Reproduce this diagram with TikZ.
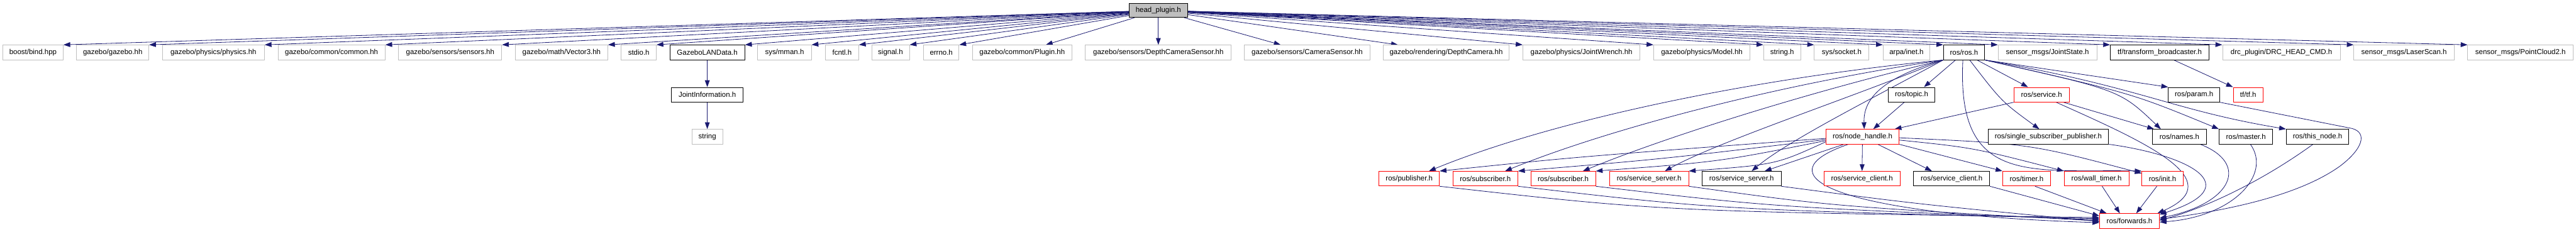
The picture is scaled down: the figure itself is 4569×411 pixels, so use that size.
\documentclass[tikz,border=0pt]{standalone}
\usepackage{fontspec}
\setmainfont{Liberation Sans}
\usetikzlibrary{arrows.meta}
\pgfdeclarelayer{bg}
\pgfsetlayers{bg,main}
\definecolor{edgec}{HTML}{191970}
\definecolor{grayb}{HTML}{BFBFBF}
\definecolor{redb}{HTML}{FF0000}
\definecolor{headfill}{HTML}{BFBFBF}
\begin{document}
\begin{tikzpicture}[x=1pt,y=-1pt,
  box/.style={draw, line width=1pt, fill=white, minimum height=26pt, inner sep=0pt, anchor=center, font=\fontsize{12.8}{15}\selectfont},
  gbox/.style={box, draw=grayb},
  kbox/.style={box, draw=black},
  rbox/.style={box, draw=redb},
  edge/.style={draw=edgec, line width=0.9pt, -{Triangle[length=12pt,width=8.5pt]}},
]
\useasboundingbox (0,0) rectangle (4569,411);

% row 1
\node[kbox, fill=headfill, minimum width=103pt, minimum height=25pt] (head) at (2054.5,18.5) {head\_plugin.h};

% row 2
\node[gbox, minimum width=107pt] (bind) at (58.5,93) {boost/bind.hpp};
\node[gbox, minimum width=128pt] (gazebo) at (200,93) {gazebo/gazebo.hh};
\node[gbox, minimum width=181pt] (physics) at (378.5,93) {gazebo/physics/physics.hh};
\node[gbox, minimum width=190pt] (common) at (588,93) {gazebo/common/common.hh};
\node[gbox, minimum width=183pt] (sensors) at (798.5,93) {gazebo/sensors/sensors.hh};
\node[gbox, minimum width=164pt] (vector3) at (996,93) {gazebo/math/Vector3.hh};
\node[gbox, minimum width=62pt] (stdio) at (1133,93) {stdio.h};
\node[kbox, minimum width=133pt] (lan) at (1254.5,93) {GazeboLANData.h};
\node[gbox, minimum width=95pt] (mman) at (1391.5,93) {sys/mman.h};
\node[gbox, minimum width=59pt] (fcntl) at (1493.5,93) {fcntl.h};
\node[gbox, minimum width=67pt] (signal) at (1579.5,93) {signal.h};
\node[gbox, minimum width=63pt] (errno) at (1669.5,93) {errno.h};
\node[gbox, minimum width=176pt] (plugin) at (1813,93) {gazebo/common/Plugin.hh};
\node[gbox, minimum width=259pt] (dcs) at (2054.5,93) {gazebo/sensors/DepthCameraSensor.hh};
\node[gbox, minimum width=223pt] (cam) at (2318.5,93) {gazebo/sensors/CameraSensor.hh};
\node[gbox, minimum width=224pt] (dcam) at (2565,93) {gazebo/rendering/DepthCamera.hh};
\node[gbox, minimum width=208pt] (wrench) at (2805,93) {gazebo/physics/JointWrench.hh};
\node[gbox, minimum width=171pt] (model) at (3018.5,93) {gazebo/physics/Model.hh};
\node[gbox, minimum width=66pt] (stringh) at (3161,93) {string.h};
\node[gbox, minimum width=97pt] (socket) at (3266.5,93) {sys/socket.h};
\node[gbox, minimum width=83pt] (inet) at (3381.5,93) {arpa/inet.h};
\node[kbox, minimum width=73pt] (ros) at (3483.5,93) {ros/ros.h};
\node[gbox, minimum width=175pt] (jointstate) at (3631.5,93) {sensor\_msgs/JointState.h};
\node[kbox, minimum width=175pt] (tfb) at (3830.5,93) {tf/transform\_broadcaster.h};
\node[gbox, minimum width=209pt] (drc) at (4046.5,93) {drc\_plugin/DRC\_HEAD\_CMD.h};
\node[gbox, minimum width=178pt] (laser) at (4264,93) {sensor\_msgs/LaserScan.h};
\node[gbox, minimum width=187pt] (cloud) at (4470.5,93) {sensor\_msgs/PointCloud2.h};

% row 3
\node[kbox, minimum width=127pt] (jinfo) at (1254.5,168) {JointInformation.h};
\node[kbox, minimum width=83pt] (topic) at (3390.5,168) {ros/topic.h};
\node[rbox, minimum width=98pt] (service) at (3621,168) {ros/service.h};
\node[kbox, minimum width=91pt] (param) at (3891.5,168) {ros/param.h};
\node[rbox, minimum width=53pt] (tftf) at (3987.5,168) {tf/tf.h};

% row 3.5
\node[gbox, minimum width=55pt] (stringn) at (1254.5,242.5) {string};
\node[rbox, minimum width=129pt] (nh) at (3303.5,242.5) {ros/node\_handle.h};
\node[kbox, minimum width=214pt] (ssp) at (3633,242.5) {ros/single\_subscriber\_publisher.h};
\node[kbox, minimum width=95pt] (names) at (3865.5,242.5) {ros/names.h};
\node[kbox, minimum width=95pt] (master) at (3983.5,242.5) {ros/master.h};
\node[kbox, minimum width=111pt] (thisnode) at (4110.5,242.5) {ros/this\_node.h};

% row 4
\node[rbox, minimum width=107pt] (pub) at (2499.5,317) {ros/publisher.h};
\node[rbox, minimum width=115pt] (sub1) at (2634.5,317) {ros/subscriber.h};
\node[rbox, minimum width=115pt] (sub2) at (2772.5,317) {ros/subscriber.h};
\node[rbox, minimum width=140pt] (ssrv1) at (2925,317) {ros/service\_server.h};
\node[kbox, minimum width=140pt] (ssrv2) at (3089,317) {ros/service\_server.h};
\node[rbox, minimum width=135pt] (scl1) at (3302.5,317) {ros/service\_client.h};
\node[kbox, minimum width=135pt] (scl2) at (3461.5,317) {ros/service\_client.h};
\node[rbox, minimum width=85pt] (timer) at (3594.5,317) {ros/timer.h};
\node[rbox, minimum width=115pt] (wtimer) at (3718.5,317) {ros/wall\_timer.h};
\node[rbox, minimum width=73pt] (init) at (3835.5,317) {ros/init.h};

% row 5
\node[rbox, minimum width=106pt] (fwd) at (3777,392) {ros/forwards.h};

\begin{pgfonlayer}{bg}
% from head
\foreach \t in {bind,gazebo,physics,common,sensors,vector3,stdio,lan,mman,fcntl,signal,errno}
  \draw[edge] (head) -- (\t.north east);
\draw[edge] (head) -- ([xshift=42pt]plugin.north);
\draw[edge] (head) -- (dcs);
\draw[edge] (head) -- ([xshift=-47pt]cam.north);
\draw[edge] (head) -- ([xshift=27pt]dcam.north west);
\foreach \t in {wrench,model,stringh,socket,inet,ros,jointstate,tfb,drc,laser,cloud}
  \draw[edge] (head) -- (\t.north west);

% GazeboLANData chain
\draw[edge] (lan) -- (jinfo);
\draw[edge] (jinfo) -- (stringn);
\draw[edge] ([xshift=25pt]tfb.south) -- (tftf.north west);

% ros/ros.h
\draw[edge] ([xshift=-15pt]ros.south) -- ([xshift=22pt]topic.north);
\draw[edge] ([xshift=23pt]ros.south) -- ([xshift=-24pt]service.north);
\draw[edge] ([xshift=10pt]ros.south) .. controls (3550,180) .. ([xshift=-16pt]ssp.north);
\draw[edge] (ros.south west) .. controls (3330,140) and (3305,180) .. ([xshift=3pt]nh.north);
\draw[edge] (ros.south east) -- (param.north west);
\draw[edge] (ros.south east) .. controls (3760,160) .. ([xshift=15pt]names.north west);
\draw[edge] (ros.south east) .. controls (3780,165) .. (master.north west);
\draw[edge] (ros.south east) .. controls (3800,155) and (3850,195) .. (thisnode.north west);
\draw[edge] (ros.south west) .. controls (3100,140) and (2750,215) .. ([xshift=35pt]pub.north);
\draw[edge] (ros.south west) .. controls (3150,150) and (2850,230) .. ([xshift=35pt]sub1.north);
\draw[edge] (ros.south west) .. controls (3200,165) and (2950,245) .. ([xshift=35pt]sub2.north);
\draw[edge] (ros.south west) .. controls (3280,175) and (3050,250) .. ([xshift=28pt]ssrv1.north);
\draw[edge] (ros.south west) .. controls (3330,170) and (3170,250) .. ([xshift=18pt]ssrv2.north);
\draw[edge] ([xshift=-2pt]ros.south) .. controls (3470,330) and (3600,300) .. (init.north west);

% topic, service
\draw[edge] ([xshift=-13pt]topic.south) -- ([xshift=19pt]nh.north);
\draw[edge] (service.south west) -- ([xshift=-8pt]nh.north east);
\draw[edge] ([xshift=39pt]service.south) -- ([xshift=3pt]names.north west);
\draw[edge] ([xshift=26pt]service.south) .. controls (3800,250) and (3960,320) .. ([xshift=-4pt]fwd.north east);
\draw[edge] (ssp.south east) .. controls (3880,275) and (3990,330) .. ([yshift=-2pt]fwd.north east);

% node_handle
\draw[edge] ([yshift=-3pt]nh.west) .. controls (2800,278) .. (pub.north east);
\draw[edge] ([yshift=-5pt]nh.west) .. controls (2950,282) .. (sub1.north east);
\draw[edge] ([yshift=-7pt]nh.west) .. controls (3050,287) .. (sub2.north east);
\draw[edge] ([yshift=-9pt]nh.west) .. controls (3150,292) .. (ssrv1.north east);
\draw[edge] ([xshift=-33pt]nh.south) -- ([xshift=41pt]ssrv2.north);
\draw[edge] (nh) -- (scl1);
\draw[edge] ([xshift=27pt]nh.south) -- ([xshift=-35pt]scl2.north);
\draw[edge] (nh.south east) -- (timer.north west);
\draw[edge] ([yshift=-6pt]nh.east) .. controls (3500,262) .. (wtimer.north west);
\draw[edge] ([yshift=-2pt]nh.east) .. controls (3600,255) .. ([yshift=-4pt]init.north west);
\draw[edge] ([xshift=-25pt]nh.south) .. controls (3120,310) and (3250,380) .. ([yshift=-3pt]fwd.west);

% into forwards.h
\draw[edge] (pub.south east) .. controls (2950,375) .. ([yshift=6pt]fwd.west);
\draw[edge] (sub1.south east) .. controls (3050,372) .. ([yshift=4pt]fwd.west);
\draw[edge] (sub2.south east) .. controls (3150,368) .. ([yshift=2pt]fwd.west);
\draw[edge] (ssrv1.south east) .. controls (3250,366) .. ([yshift=0pt]fwd.west);
\draw[edge] (ssrv2.south east) .. controls (3400,362) .. ([yshift=-1pt]fwd.west);
\draw[edge] (scl2.south east) -- ([yshift=9pt]fwd.west);
\draw[edge] ([xshift=15pt]timer.south) -- ([xshift=13pt]fwd.north west);
\draw[edge] ([xshift=10pt]wtimer.south) -- ([xshift=-17pt]fwd.north);
\draw[edge] ([xshift=-10pt]init.south) -- ([xshift=12pt]fwd.north);
\draw[edge] ([xshift=37pt]names.south) .. controls (3990,290) and (3960,360) .. ([yshift=5pt]fwd.east);
\draw[edge] ([xshift=8pt]master.south) .. controls (4030,310) and (3960,385) .. ([yshift=-2pt]fwd.east);
\draw[edge] ([xshift=-8pt]thisnode.south) .. controls (4000,330) and (3900,372) .. ([yshift=1pt]fwd.east);
\draw[edge] (param.south east) -- (4172,228) .. controls (4200,236) and (4190,265) .. (4150,295) .. controls (4080,345) and (3960,372) .. ([yshift=3pt]fwd.east);
\end{pgfonlayer}
\end{tikzpicture}
\end{document}
